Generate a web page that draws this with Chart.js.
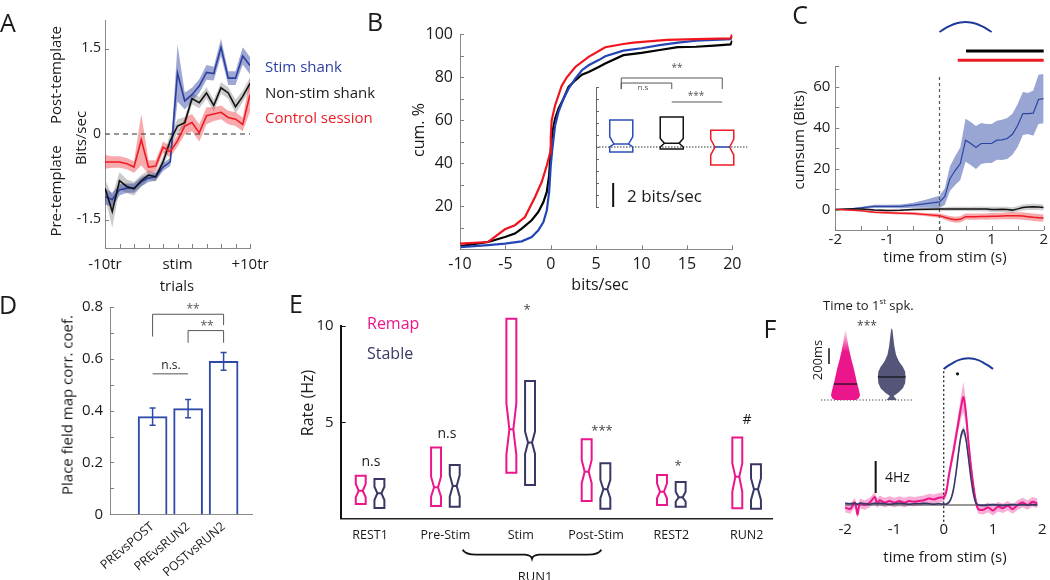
<!DOCTYPE html>
<html>
<head>
<meta charset="utf-8">
<script src="https://cdn.jsdelivr.net/npm/chart.js@4.4.1/dist/chart.umd.min.js"></script>
<style>
  html, body { margin: 0; padding: 0; background: #fff; }
  #fig { position: relative; width: 1050px; height: 580px; overflow: hidden; font-family: 'Open Sans', sans-serif; color: #1a1a1a; }
  #fig canvas { position: absolute; }
  .t { position: absolute; white-space: nowrap; line-height: 1; transform: translate(-50%, -50%); }
  .t.l { transform: translate(0, -50%); }
  .t.r { transform: translate(-50%, -50%) rotate(-90deg); }
  .p { font-size: 25px; }
  sup { font-size: 60%; }
</style>
</head>
<body>
<div id="fig"></div>
<script>
// ---- panel A: template bias around stim trials
const aTrials = [-10, -9, -8, -7, -6, -5, -4, -3, -2, -1, 0, 1, 2, 3, 4, 5, 6, 7, 8, 9, 10];
const aStim = [-1.1, -1.15, -0.98, -0.95, -0.95, -0.84, -0.77, -0.75, -0.58, -0.49, 1.07, 0.58, 0.69, 0.84, 1.08, 1.06, 1.52, 0.98, 0.98, 1.37, 1.2];
const aStimErr = [0.14, 0.12, 0.1, 0.08, 0.08, 0.08, 0.07, 0.07, 0.07, 0.07, 0.5, 0.15, 0.12, 0.12, 0.13, 0.12, 0.15, 0.12, 0.12, 0.15, 0.15];
const aNon = [-0.95, -1.36, -0.82, -0.92, -0.96, -0.82, -0.72, -0.75, -0.49, -0.12, 0.14, 0.2, 0.62, 0.55, 0.72, 0.5, 0.81, 0.72, 0.48, 0.66, 0.89];
const aNonErr = [0.15, 0.28, 0.15, 0.12, 0.12, 0.1, 0.08, 0.08, 0.1, 0.12, 0.12, 0.1, 0.1, 0.1, 0.1, 0.1, 0.1, 0.1, 0.12, 0.1, 0.1];
const aCtrl = [-0.49, -0.49, -0.49, -0.52, -0.58, -0.1, -0.58, -0.56, -0.23, -0.31, -0.12, 0.14, 0.2, 0.02, 0.32, 0.35, 0.38, 0.29, 0.26, 0.17, 0.69];
const aCtrlErr = [0.12, 0.1, 0.1, 0.1, 0.1, 0.45, 0.12, 0.1, 0.1, 0.1, 0.1, 0.15, 0.15, 0.15, 0.15, 0.12, 0.12, 0.12, 0.12, 0.12, 0.3];
const aXTicks = [-10, -8, -6, -4, -2, 0, 2, 4, 6, 8, 10];
const aXLabelAt = [-10, 0, 10];
const aXLabelText = ['-10tr', 'stim', '+10tr'];
const aYTicks = [-1.5, 0, 1.5];

// ---- panel B: cumulative distributions
const bRedX = [-10, -6.9, -6.2, -5.05, -3.95, -2.84, -1.73, -1, -0.44, -0.07, 0, 0.1, 0.48, 1.2, 1.77, 2.7, 4.17, 6, 8, 9.1, 12.8, 16, 19.8, 20];
const bRedY = [2.6, 3.4, 5.7, 9.3, 11.2, 15, 24.3, 31.3, 39, 45, 52, 60, 67, 76, 80, 84.8, 89.5, 94, 95.5, 96.1, 97.4, 97.8, 98.1, 100];
const bBlueX = [-10, -6.9, -5.05, -3.2, -2.1, -1.37, -0.81, -0.44, -0.18, 0, 0.18, 0.48, 0.85, 1.4, 1.96, 2.7, 3.43, 4.17, 5.28, 6, 8, 10, 12, 14, 16, 18, 19.8, 20];
const bBlueY = [1, 1.9, 2.6, 3.7, 5.7, 8.8, 12.7, 18, 26.7, 39, 46.8, 57.7, 63.9, 70, 74.7, 79.4, 83.3, 85.6, 88, 89.8, 92.4, 93.5, 95, 96.1, 97, 97.4, 97.7, 99.2];
const bBlackX = [-10, -6.9, -5.05, -3.95, -3.2, -2.1, -1.37, -0.81, -0.44, -0.18, 0, 0.18, 0.48, 0.85, 1.4, 1.96, 2.7, 3.43, 4.17, 5.28, 6, 8, 10, 12, 14, 16, 18, 19.8, 20];
const bBlackY = [1.5, 3.4, 5.7, 7.3, 9.6, 13.5, 17.4, 22, 26.7, 34.4, 46.8, 54.6, 60.8, 65.4, 70, 75.5, 78.6, 81.2, 82.5, 84.8, 86.4, 90.3, 91.4, 92.7, 94, 94.2, 94.7, 95.3, 97];
const bXTicks = [-10, -5, 0, 5, 10, 15, 20];
const bYTicks = [0, 10, 20, 30, 40, 50, 60, 70, 80, 90, 100];
const bYLabelAt = [20, 40, 60, 80, 100];
// inset boxes (bits/sec)
const bBoxQ1 = [-0.42, -0.17, -1.5];
const bBoxQ3 = [2.25, 2.5, 1.4];
const bBoxMed = [0.25, 0.31, 0];
const bBoxNotchLo = [0.0, 0.0, -0.67];
const bBoxNotchHi = [0.86, 0.72, 0.64];
const bBoxColor = ['#2a4fb8', '#111111', '#ee1c24'];
const bBoxMedColor = ['#2a4fb8', '#111111', '#2a4fb8'];
const bBrFrom = [1, 1, 2];
const bBrTo = [3, 2, 3];
const bBrY = [5.75, 5.33, 3.75];
const bBrLeg = [4.83, 4.83, 3.75];
const bInsetTicks = [-5, -4, -3, -2, -1, 0, 1, 2, 3, 4, 5];

// ---- panel C: cumulative information
const cT = [-2, -1.75, -1.5, -1.25, -1, -0.75, -0.5, -0.25, 0, 0.1, 0.2, 0.3, 0.4, 0.5, 0.6, 0.7, 0.8, 0.9, 1, 1.1, 1.2, 1.3, 1.4, 1.5, 1.6, 1.7, 1.8, 1.9, 2];
const cBlue = [0, 0.2, 0.8, 1.5, 1.5, 1.5, 2.1, 2.9, 3.7, 6.2, 15, 19, 22.4, 33.8, 32.2, 30.2, 32.2, 32.2, 32.2, 33.8, 34, 34.6, 36.7, 41, 46.8, 46.8, 47, 53.7, 54.1];
const cBlueErr = [0, 0.3, 0.6, 0.8, 0.8, 0.9, 1.2, 2, 3, 4, 6, 7, 8, 10.5, 10.5, 10.5, 10, 9.5, 9.5, 9.5, 9.8, 10, 10, 10.5, 10.5, 10, 11, 12, 12];
const cBlack = [0, 0.2, 0.3, -0.2, -0.5, -0.4, 0, 0.1, 0.2, 0.2, 0.3, 0.3, 0.3, 0.3, 0.3, 0.3, 0.3, 0.2, 0, 0, 0.1, 0, -0.3, 0.3, 1, 1.2, 1.3, 1.2, 1];
const cBlackErr = [0, 0.3, 0.4, 0.5, 0.5, 0.5, 0.6, 0.7, 0.8, 0.9, 1, 1, 1, 1, 1.1, 1.2, 1.2, 1.2, 1.3, 1.3, 1.3, 1.4, 1.4, 1.4, 1.5, 1.5, 1.5, 1.5, 1.5];
const cRed = [0, -0.2, -0.6, -1.3, -1.6, -1.8, -2, -2.5, -3, -3.8, -4.5, -5, -4.8, -3.5, -3.5, -3.5, -3.4, -3.4, -3.3, -3.3, -3.2, -3.1, -3, -3, -3.2, -3.5, -3.8, -4, -4.2];
const cRedErr = [0, 0.3, 0.4, 0.5, 0.6, 0.6, 0.7, 0.8, 1, 1.2, 1.3, 1.5, 1.5, 1.5, 1.5, 1.5, 1.5, 1.6, 1.6, 1.6, 1.6, 1.7, 1.7, 1.7, 1.8, 1.8, 1.8, 1.8, 1.8];
const cXTicks = [-2, -1.5, -1, -0.5, 0, 0.5, 1, 1.5, 2];
const cXLabelAt = [-2, -1, 0, 1, 2];
const cYTicks = [-10, 0, 10, 20, 30, 40, 50, 60, 70];
const cYLabelAt = [0, 20, 40, 60];
const cSigBlack = [0.51, 2];
const cSigRed = [0.35, 2];
// stimulus waveform drawn above C and F (0..1 s)
const stimT = [0, 0.1, 0.2, 0.3, 0.4, 0.5, 0.6, 0.7, 0.8, 0.9, 1];
const stimShape = [0, 0.33, 0.6, 0.82, 0.95, 1, 0.95, 0.82, 0.6, 0.33, 0];

// ---- panel D: place field correlations
const dNames = ['PREvsPOST', 'PREvsRUN2', 'POSTvsRUN2'];
const dMean = [0.377, 0.408, 0.59];
const dErr = [0.033, 0.035, 0.034];
const dYTicks = [0, 0.1, 0.2, 0.3, 0.4, 0.5, 0.6, 0.7, 0.8];
const dYLabelAt = [0, 0.2, 0.4, 0.6, 0.8];
const dBrFrom = [1, 2, 1];
const dBrTo = [3, 3, 2];
const dBrY = [0.772, 0.709, 0.542];
const dBrLegL = [0.686, 0.662, 0.542];
const dBrLegR = [0.73, 0.662, 0.542];

// ---- panel E: firing rates (notched boxes)
const eCats = ['REST1', 'Pre-Stim', 'Stim', 'Post-Stim', 'REST2', 'RUN2'];
const eRemapQ1 = [0.76, 0.66, 2.39, 0.92, 0.71, 0.54];
const eRemapQ3 = [2.23, 3.69, 10.37, 4.12, 2.27, 4.21];
const eRemapMed = [1.45, 1.63, 4.64, 2.44, 1.4, 2.18];
const eRemapNLo = [1.11, 1.14, 3.31, 1.84, 1.06, 1.4];
const eRemapNHi = [1.8, 2.18, 5.99, 3.05, 1.84, 2.88];
const eStableQ1 = [0.56, 0.62, 1.75, 0.52, 0.62, 0.52];
const eStableQ3 = [2.06, 2.79, 7.15, 2.88, 1.9, 2.82];
const eStableMed = [1.32, 1.7, 3.95, 1.53, 1.11, 1.53];
const eStableNLo = [0.97, 1.14, 3.36, 1.06, 0.88, 0.97];
const eStableNHi = [1.66, 2.27, 4.52, 2.01, 1.4, 2.1];
const eYTicks = [5, 10];
const eBrace = [1.23, 3.07, 2.15];

// ---- panel F: rate around stim + time to first spike
const fT = [-2, -1.9, -1.8, -1.75, -1.7, -1.6, -1.5, -1.4, -1.35, -1.3, -1.2, -1.1, -1, -0.9, -0.8, -0.7, -0.6, -0.5, -0.4, -0.3, -0.2, -0.1, 0, 0.05, 0.1, 0.15, 0.2, 0.25, 0.3, 0.35, 0.4, 0.45, 0.5, 0.55, 0.6, 0.65, 0.7, 0.8, 0.9, 1, 1.1, 1.2, 1.3, 1.4, 1.5, 1.6, 1.7, 1.8, 1.9];
const fRemap = [-0.3, -0.5, 0.3, -1.2, 0.2, 0, 0.3, 1, 0.2, 0.6, 0.3, 0.5, 0.3, 0.5, 0.3, 0.5, 0.4, 0.5, 0.6, 0.8, 0.7, 0.9, 1, 1.6, 3.5, 5.2, 6.8, 8.6, 10.4, 12.2, 13.5, 11.5, 8, 5, 2.5, 0.5, -0.5, -0.6, -0.3, -0.7, -0.2, -0.4, -0.1, -0.5, 0, 0.3, 0, 0.4, 0.2];
const fRemapErr = [0.6, 0.6, 0.6, 0.6, 0.6, 0.6, 0.6, 0.6, 0.6, 0.6, 0.6, 0.6, 0.6, 0.6, 0.6, 0.6, 0.6, 0.6, 0.6, 0.6, 0.6, 0.6, 0.6, 0.6, 0.7, 0.8, 0.9, 1, 1.1, 1.4, 1.9, 1.5, 1.1, 0.9, 0.7, 0.6, 0.6, 0.6, 0.6, 0.6, 0.6, 0.6, 0.6, 0.6, 0.6, 0.6, 0.6, 0.6, 0.6];
const fStable = [0.2, 0.15, 0.2, 0.1, 0.2, 0.15, 0.1, 0.2, 0.15, 0.2, 0.15, 0.1, 0.15, 0.2, 0.15, 0.1, 0.15, 0.15, 0.2, 0.15, 0.1, 0.15, 0.1, 0.1, 0.3, 0.8, 2, 4, 6.5, 8.6, 9.4, 8.3, 6, 3.5, 1.5, 0.3, 0, -0.05, 0, 0.05, 0, -0.05, 0, 0.05, 0, 0.05, 0, 0.05, 0];
const fStableErr = [0.15, 0.15, 0.15, 0.15, 0.15, 0.15, 0.15, 0.15, 0.15, 0.15, 0.15, 0.15, 0.15, 0.15, 0.15, 0.15, 0.15, 0.15, 0.15, 0.15, 0.15, 0.15, 0.15, 0.15, 0.2, 0.25, 0.3, 0.35, 0.4, 0.45, 0.5, 0.45, 0.4, 0.3, 0.2, 0.15, 0.15, 0.15, 0.15, 0.15, 0.15, 0.15, 0.15, 0.15, 0.15, 0.15, 0.15, 0.15, 0.15];
const fXTicks = [-2, -1, 0, 1, 2];
const fBaseline = [-2, 1.9];
const fDot = [0.28, 16.4];
// violins: time to 1st spike (ms) vs half width
const vRemapT = [0, 21, 64, 128, 213, 298, 426, 511, 639, 766, 851, 915];
const vRemapW = [0.22, 0.29, 0.314, 0.29, 0.25, 0.22, 0.17, 0.13, 0.08, 0.04, 0.02, 0];
const vStableT = [0, 8, 30, 51, 94, 149, 213, 290, 362, 426, 490, 575, 681, 788, 894, 915];
const vStableW = [0.1, 0.1, 0.07, 0.04, 0.14, 0.24, 0.29, 0.3, 0.29, 0.24, 0.16, 0.094, 0.058, 0.036, 0.015, 0];
const vMedian = [204, 294];

const BLUE = '#2b3f9e', RED = '#ed1c24', PINK = '#ec168c', NAVY = '#383766';

Chart.defaults.font.family = "'Open Sans', sans-serif";
Chart.defaults.color = '#1a1a1a';
Chart.defaults.animation = false;
Chart.defaults.plugins.legend.display = false;
Chart.defaults.plugins.tooltip.enabled = false;
Chart.defaults.elements.point.radius = 0;
Chart.defaults.elements.line.tension = 0;

const fig = document.getElementById('fig');

function makeChart(left, top, w, h, config) {
  const c = document.createElement('canvas');
  c.width = w; c.height = h;
  c.style.left = left + 'px'; c.style.top = top + 'px';
  c.style.width = w + 'px'; c.style.height = h + 'px';
  fig.appendChild(c);
  config.options = Object.assign({ responsive: false, devicePixelRatio: 1 }, config.options);
  return new Chart(c, config);
}

// fix an axis' thickness so the plot area lands where the figure has it
function fixed(size) {
  return s => {
    if (s.isHorizontal()) s.height = size; else s.width = size;
    s.paddingLeft = s.paddingRight = s.paddingTop = s.paddingBottom = 0;
  };
}
const setTicks = vals => s => { s.ticks = vals.map(v => ({ value: v })); };
const labelsAt = (at, text) => v => { const i = at.indexOf(v); return i < 0 ? '' : (text ? text[i] : String(v)); };
const pts = (xs, ys) => xs.map((x, i) => ({ x, y: ys[i] }));

function line(data, color, width, extra) {
  return Object.assign({ type: 'line', data, borderColor: color, borderWidth: width, pointRadius: 0, fill: false }, extra || {});
}
function band(xs, mean, err, color, order) {
  return [
    line(xs.map((x, i) => ({ x, y: mean[i] - err[i] })), 'rgba(0,0,0,0)', 0, { order }),
    line(xs.map((x, i) => ({ x, y: mean[i] + err[i] })), 'rgba(0,0,0,0)', 0, { order, fill: '-1', backgroundColor: color })
  ];
}

// MATLAB-style ticks pointing into the plot
const inTicks = {
  id: 'inTicks',
  afterDatasetsDraw(chart, args, opts) {
    const ctx = chart.ctx, a = chart.chartArea;
    ctx.save();
    ctx.strokeStyle = opts.color || '#808080';
    ctx.lineWidth = 1;
    (opts.axes || []).forEach(id => {
      const s = chart.scales[id];
      s.ticks.forEach(t => {
        const p = Math.round(s.getPixelForValue(t.value)) + 0.5;
        ctx.beginPath();
        if (s.isHorizontal()) { ctx.moveTo(p, a.bottom); ctx.lineTo(p, a.bottom - opts.len); }
        else { ctx.moveTo(a.left, p); ctx.lineTo(a.left + opts.len, p); }
        ctx.stroke();
      });
    });
    ctx.restore();
  }
};

function notchBox(ctx, xs, ys, pos, half, q1, q3, med, lo, hi, indent, color, lw, medColor) {
  const l = xs.getPixelForValue(pos - half), r = xs.getPixelForValue(pos + half);
  const d = (r - l) * indent;
  const Y = v => ys.getPixelForValue(v);
  ctx.save();
  ctx.strokeStyle = color; ctx.lineWidth = lw;
  ctx.beginPath();
  ctx.moveTo(l, Y(q3)); ctx.lineTo(l, Y(hi)); ctx.lineTo(l + d, Y(med)); ctx.lineTo(l, Y(lo)); ctx.lineTo(l, Y(q1));
  ctx.lineTo(r, Y(q1)); ctx.lineTo(r, Y(lo)); ctx.lineTo(r - d, Y(med)); ctx.lineTo(r, Y(hi)); ctx.lineTo(r, Y(q3));
  ctx.closePath(); ctx.stroke();
  ctx.beginPath(); ctx.strokeStyle = medColor;
  ctx.moveTo(l + d, Y(med)); ctx.lineTo(r - d, Y(med)); ctx.stroke();
  ctx.restore();
}

function bracket(ctx, xs, ys, from, to, y, legL, legR) {
  const X = v => xs.getPixelForValue(v), Y = v => ys.getPixelForValue(v);
  ctx.beginPath();
  ctx.moveTo(X(from), Y(legL)); ctx.lineTo(X(from), Y(y)); ctx.lineTo(X(to), Y(y)); ctx.lineTo(X(to), Y(legR));
  ctx.stroke();
}

const noGrid = { display: false, drawTicks: false };

// ================= A =================
makeChart(0, 0, 280, 300, {
  type: 'line',
  data: { datasets: [
    ...band(aTrials, aNon, aNonErr, 'rgba(150,150,150,0.5)', 12),
    ...band(aTrials, aStim, aStimErr, 'rgba(43,63,158,0.45)', 11),
    ...band(aTrials, aCtrl, aCtrlErr, 'rgba(237,28,36,0.38)', 10),
    line(pts([-10, 10], [0, 0]), '#333', 1.2, { borderDash: [5, 4], order: 5 }),
    line(pts(aTrials, aStim), BLUE, 1.6, { order: 3 }),
    line(pts(aTrials, aNon), '#111', 1.6, { order: 2 }),
    line(pts(aTrials, aCtrl), RED, 1.6, { order: 1 })
  ] },
  options: {
    layout: { padding: { left: 0, top: 20, right: 30, bottom: 0 } },
    scales: {
      x: { type: 'linear', min: -10, max: 10, afterFit: fixed(52), afterBuildTicks: setTicks(aXTicks),
           grid: noGrid, border: { color: '#8a8a8a' },
           ticks: { padding: 8, autoSkip: false, maxRotation: 0, font: { size: 15 }, callback: labelsAt(aXLabelAt, aXLabelText) } },
      y: { min: -2, max: 2, afterFit: fixed(105), afterBuildTicks: setTicks(aYTicks),
           grid: noGrid, border: { color: '#8a8a8a' },
           ticks: { padding: 4, autoSkip: false, font: { size: 14 }, callback: v => String(v) } }
    },
    plugins: { inTicks: { axes: ['x', 'y'], len: 4 } }
  },
  plugins: [inTicks]
});

// ================= B =================
makeChart(400, 0, 360, 300, {
  type: 'line',
  data: { datasets: [
    line(pts(bBlackX, bBlackY), '#000', 2.2, { order: 3 }),
    line(pts(bBlueX, bBlueY), '#2446b4', 2.2, { order: 2 }),
    line(pts(bRedX, bRedY), '#f0141e', 2.2, { order: 1 })
  ] },
  options: {
    layout: { padding: { left: 0, top: 34.3, right: 27.7, bottom: 0 } },
    scales: {
      x: { type: 'linear', min: -10, max: 20, afterFit: fixed(50.7), afterBuildTicks: setTicks(bXTicks),
           grid: noGrid, border: { color: '#8a8a8a' },
           ticks: { padding: 6, autoSkip: false, maxRotation: 0, font: { size: 16 }, callback: v => String(v) } },
      y: { min: 0, max: 100, afterFit: fixed(60), afterBuildTicks: setTicks(bYTicks),
           grid: noGrid, border: { color: '#8a8a8a' },
           ticks: { padding: 7, autoSkip: false, font: { size: 16 }, callback: labelsAt(bYLabelAt) } }
    },
    plugins: { inTicks: { axes: ['x', 'y'], len: 4 } }
  },
  plugins: [inTicks]
});

// B inset: notched boxes of the three groups
makeChart(590, 60, 170, 160, {
  type: 'line',
  data: { datasets: [
    line(pts([0.5, 3.5], [0, 0]), '#333', 1, { borderDash: [1.5, 1.5] }),
    line(pts([0.84, 0.84], [-5, -3]), '#111', 2)
  ] },
  options: {
    layout: { padding: { left: 6, top: 27, right: 12.5, bottom: 13 } },
    scales: {
      x: { type: 'linear', min: 0.5, max: 3.5, display: false },
      y: { min: -5, max: 5, afterFit: fixed(0), afterBuildTicks: setTicks(bInsetTicks),
           grid: noGrid, border: { color: '#666', dash: [3, 2] }, ticks: { display: false, autoSkip: false } }
    },
    plugins: { inTicks: { axes: ['y'], len: 3, color: '#666' } }
  },
  plugins: [inTicks, {
    id: 'bBoxes',
    afterDatasetsDraw(chart) {
      const ctx = chart.ctx, xs = chart.scales.x, ys = chart.scales.y;
      bBoxQ1.forEach((q1, i) => notchBox(ctx, xs, ys, i + 1, 0.228, q1, bBoxQ3[i], bBoxMed[i], bBoxNotchLo[i], bBoxNotchHi[i], 0.18, bBoxColor[i], 1.5, bBoxMedColor[i]));
      ctx.save(); ctx.strokeStyle = '#555'; ctx.lineWidth = 1;
      bBrFrom.forEach((f, i) => bracket(ctx, xs, ys, f, bBrTo[i], bBrY[i], bBrLeg[i], bBrLeg[i]));
      ctx.restore();
    }
  }]
});

// ================= C =================
makeChart(770, 0, 280, 300, {
  type: 'line',
  data: { datasets: [
    ...band(cT, cBlue, cBlueErr, 'rgba(52,78,170,0.5)', 12),
    ...band(cT, cBlack, cBlackErr, 'rgba(150,150,150,0.45)', 11),
    ...band(cT, cRed, cRedErr, 'rgba(237,28,36,0.38)', 10),
    line(pts([0, 0], [-10, 65]), '#555', 1.2, { borderDash: [3, 3], order: 6 }),
    line(pts(cT, cBlue), '#2a44a3', 1.2, { order: 3 }),
    line(pts(cT, cBlack), '#111', 1.5, { order: 2 }),
    line(pts(cT, cRed), RED, 1.5, { order: 1 }),
    line(pts(stimT, stimShape.map(s => 86.6 + 4.9 * s)), '#1f3a9a', 2, { clip: false, tension: 0.4 }),
    line(pts(cSigBlack, [77.3, 77.3]), '#000', 3, { clip: false }),
    line(pts(cSigRed, [72.8, 72.8]), RED, 3, { clip: false })
  ] },
  options: {
    layout: { padding: { left: 0, top: 66, right: 6.3, bottom: 0 } },
    scales: {
      x: { type: 'linear', min: -2, max: 2, afterFit: fixed(70), afterBuildTicks: setTicks(cXTicks),
           grid: noGrid, border: { color: '#8a8a8a' },
           ticks: { padding: 1, autoSkip: false, maxRotation: 0, font: { size: 15 }, callback: labelsAt(cXLabelAt) } },
      y: { min: -10, max: 70, afterFit: fixed(65.3), afterBuildTicks: setTicks(cYTicks),
           grid: noGrid, border: { color: '#8a8a8a' },
           ticks: { padding: 5, autoSkip: false, font: { size: 15 }, callback: labelsAt(cYLabelAt) } }
    },
    plugins: { inTicks: { axes: ['x', 'y'], len: 4 } }
  },
  plugins: [inTicks]
});

// ================= D =================
makeChart(0, 290, 262, 290, {
  type: 'bar',
  data: { datasets: [{
    data: pts([1, 2, 3], dMean), backgroundColor: '#fff', borderColor: '#2e4aa8', borderWidth: 2, barThickness: 29
  }] },
  options: {
    layout: { padding: { left: 0, top: 17, right: 10, bottom: 0 } },
    scales: {
      x: { type: 'linear', offset: false, min: -0.2, max: 3.8, afterFit: fixed(65.7), afterBuildTicks: setTicks([1, 2, 3]),
           grid: { display: false, drawTicks: false, offset: false }, border: { color: '#8a8a8a' },
           ticks: { padding: 5, autoSkip: false, minRotation: 40, maxRotation: 40, font: { size: 12.5 }, callback: v => dNames[v - 1] } },
      y: { min: 0, max: 0.8, afterFit: fixed(110), afterBuildTicks: setTicks(dYTicks),
           grid: noGrid, border: { color: '#8a8a8a' },
           ticks: { padding: 7, autoSkip: false, font: { size: 15 }, callback: labelsAt(dYLabelAt) } }
    },
    plugins: { inTicks: { axes: ['y'], len: 4 } }
  },
  plugins: [inTicks, {
    id: 'dExtras',
    afterDatasetsDraw(chart) {
      const ctx = chart.ctx, xs = chart.scales.x, ys = chart.scales.y;
      ctx.save();
      ctx.strokeStyle = '#2e4aa8'; ctx.lineWidth = 1.5;
      dMean.forEach((m, i) => {
        const x = xs.getPixelForValue(i + 1), t = ys.getPixelForValue(m + dErr[i]), b = ys.getPixelForValue(m - dErr[i]);
        ctx.beginPath();
        ctx.moveTo(x, t); ctx.lineTo(x, b);
        ctx.moveTo(x - 3, t); ctx.lineTo(x + 3, t);
        ctx.moveTo(x - 3, b); ctx.lineTo(x + 3, b);
        ctx.stroke();
      });
      ctx.strokeStyle = '#555'; ctx.lineWidth = 1;
      dBrFrom.forEach((f, i) => bracket(ctx, xs, ys, f, dBrTo[i], dBrY[i], dBrLegL[i], dBrLegR[i]));
      ctx.restore();
    }
  }]
});

// ================= E =================
makeChart(270, 300, 503, 280, {
  type: 'line',
  data: { datasets: [] },
  options: {
    layout: { padding: { left: 0, top: 26, right: 0, bottom: 0 } },
    scales: {
      x: { type: 'linear', min: -0.39, max: 5.35, afterFit: fixed(61.3), afterBuildTicks: setTicks([0, 1, 2, 3, 4, 5]),
           grid: noGrid, border: { color: '#222', width: 1.5, dash: [6, 4] },
           ticks: { padding: 9, autoSkip: false, maxRotation: 0, font: { size: 12.5 }, callback: v => eCats[v] } },
      y: { min: 0, max: 10, afterFit: fixed(70.7), afterBuildTicks: setTicks(eYTicks),
           grid: noGrid, border: { color: '#111', width: 2 },
           ticks: { padding: 7, autoSkip: false, font: { size: 15 }, callback: v => String(v) } }
    },
    plugins: { inTicks: { axes: ['y'], len: 5, color: '#111' } }
  },
  plugins: [inTicks, {
    id: 'eBoxes',
    afterDatasetsDraw(chart) {
      const ctx = chart.ctx, xs = chart.scales.x, ys = chart.scales.y;
      eCats.forEach((c, i) => {
        notchBox(ctx, xs, ys, i - 0.124, 0.066, eRemapQ1[i], eRemapQ3[i], eRemapMed[i], eRemapNLo[i], eRemapNHi[i], 0.3, PINK, 2, PINK);
        notchBox(ctx, xs, ys, i + 0.124, 0.066, eStableQ1[i], eStableQ3[i], eStableMed[i], eStableNLo[i], eStableNHi[i], 0.3, NAVY, 2, NAVY);
      });
      // brace grouping the RUN1 epochs
      const x1 = xs.getPixelForValue(eBrace[0]), x2 = xs.getPixelForValue(eBrace[1]), xm = xs.getPixelForValue(eBrace[2]);
      const y0 = chart.chartArea.bottom + 31;
      ctx.save(); ctx.strokeStyle = '#111'; ctx.lineWidth = 1.8;
      ctx.beginPath();
      ctx.moveTo(x1, y0);
      ctx.quadraticCurveTo(x1 + 2, y0 + 5, x1 + 14, y0 + 5);
      ctx.lineTo(xm - 7, y0 + 5);
      ctx.quadraticCurveTo(xm - 1, y0 + 5.5, xm, y0 + 9);
      ctx.quadraticCurveTo(xm + 1, y0 + 5.5, xm + 7, y0 + 5);
      ctx.lineTo(x2 - 14, y0 + 5);
      ctx.quadraticCurveTo(x2 - 2, y0 + 5, x2, y0);
      ctx.stroke();
      ctx.restore();
    }
  }]
});

// ================= F =================
makeChart(780, 300, 270, 280, {
  type: 'line',
  data: { datasets: [
    ...band(fT, fRemap, fRemapErr, 'rgba(236,22,140,0.35)', 12),
    ...band(fT, fStable, fStableErr, 'rgba(90,88,130,0.4)', 11),
    line(pts(fBaseline, [0, 0]), '#777', 1.5, { order: 5 }),
    line(pts([0, 0], [-2.1, 17.1]), '#222', 1.3, { borderDash: [2, 2.5], clip: false, order: 6 }),
    line(pts(fT, fRemap), PINK, 2, { order: 2, tension: 0.3 }),
    line(pts(fT, fStable), NAVY, 1.6, { order: 1, tension: 0.3 }),
    line(pts([-1.38, -1.38], [1.5, 5.5]), '#111', 2),
    line(pts(stimT, stimShape.map(s => 17 + 1.35 * s)), '#1f3a9a', 2, { tension: 0.4 }),
    { type: 'scatter', data: [{ x: fDot[0], y: fDot[1] }], pointRadius: 1.6, backgroundColor: '#111', borderWidth: 0 }
  ] },
  options: {
    layout: { padding: { left: 65.1, top: 53, right: 7.7, bottom: 0 } },
    scales: {
      x: { type: 'linear', min: -2, max: 2, afterFit: fixed(63), afterBuildTicks: setTicks(fXTicks),
           grid: noGrid, border: { display: false },
           ticks: { padding: 4, autoSkip: false, maxRotation: 0, font: { size: 15 }, callback: v => String(v) } },
      y: { min: -1.5, max: 19, display: false }
    }
  }
});

// F inset: violins of time to first spike
makeChart(815, 320, 105, 84, {
  type: 'line',
  data: { datasets: [
    line(pts([0.47, 2.46], [0, 0]), '#333', 1, { borderDash: [1.2, 2], clip: false }),
    line(pts([0.643, 0.643], [460, 660]), '#111', 1.5)
  ] },
  options: {
    layout: { padding: { left: 6, top: 1.7, right: 7, bottom: 4 } },
    scales: {
      x: { type: 'linear', min: 0.47, max: 2.46, display: false },
      y: { min: 0, max: 1000, display: false }
    }
  },
  plugins: [{
    id: 'violins',
    afterDatasetsDraw(chart) {
      const ctx = chart.ctx, xs = chart.scales.x, ys = chart.scales.y;
      const interp = (ts, ws, t) => { for (let i = 1; i < ts.length; i++) if (t <= ts[i]) return ws[i - 1] + (ws[i] - ws[i - 1]) * (t - ts[i - 1]) / (ts[i] - ts[i - 1]); return 0; };
      const draw = (cx, ts, ws, fill, med) => {
        ctx.save();
        ctx.fillStyle = fill;
        ctx.beginPath();
        ts.forEach((t, i) => { const px = xs.getPixelForValue(cx + ws[i]), py = ys.getPixelForValue(t); i ? ctx.lineTo(px, py) : ctx.moveTo(px, py); });
        for (let i = ts.length - 1; i >= 0; i--) ctx.lineTo(xs.getPixelForValue(cx - ws[i]), ys.getPixelForValue(ts[i]));
        ctx.closePath(); ctx.fill();
        const w = interp(ts, ws, med), y = ys.getPixelForValue(med);
        ctx.strokeStyle = '#111'; ctx.lineWidth = 1.2;
        ctx.beginPath(); ctx.moveTo(xs.getPixelForValue(cx - w), y); ctx.lineTo(xs.getPixelForValue(cx + w), y); ctx.stroke();
        ctx.restore();
      };
      const g = ctx.createLinearGradient(0, ys.getPixelForValue(915), 0, ys.getPixelForValue(620));
      g.addColorStop(0, 'rgba(236,22,140,0)');
      g.addColorStop(1, 'rgba(236,22,140,1)');
      draw(1, vRemapT, vRemapW, g, vMedian[0]);
      draw(2, vStableT, vStableW, '#55557a', vMedian[1]);
    }
  }]
});

// ================= text =================
function txt(html, x, y, cls, style) {
  const d = document.createElement('div');
  d.className = 't ' + (cls || '');
  d.innerHTML = html;
  d.style.left = x + 'px'; d.style.top = y + 'px';
  if (style) d.style.cssText += style;
  fig.appendChild(d);
}
txt('A', 8, 22, 'p');
txt('Post-template', 55, 75, 'r', 'font-size:15px');
txt('Pre-template', 55, 191, 'r', 'font-size:15px');
txt('Bits/sec', 80, 138, 'r', 'font-size:15px');
txt('Stim shank', 265, 66, 'l', 'font-size:15px;color:' + BLUE);
txt('Non-stim shank', 265, 92, 'l', 'font-size:15px');
txt('Control session', 265, 117, 'l', 'font-size:15px;color:' + RED);
txt('trials', 177, 285, '', 'font-size:15px');

txt('B', 375, 21, 'p');
txt('cum. %', 418, 130, 'r', 'font-size:16px');
txt('bits/sec', 600, 284, '', 'font-size:16px');
txt('**', 677, 67, '', 'font-size:10px;color:#555');
txt('n.s', 643, 87, '', 'font-size:8px;color:#555');
txt('***', 696, 95, '', 'font-size:10px;color:#555');
txt('2 bits/sec', 627, 195, 'l', 'font-size:17px');

txt('C', 800, 14, 'p');
txt('cumsum (Bits)', 798, 140, 'r', 'font-size:15px');
txt('time from stim (s)', 945, 256, '', 'font-size:15px');

txt('D', 8, 304, 'p');
txt('Place field map corr. coef.', 67, 405, 'r', 'font-size:15px');
txt('**', 193, 309, '', 'font-size:12px;color:#555');
txt('**', 207, 326, '', 'font-size:12px;color:#555');
txt('n.s.', 171, 365, '', 'font-size:12px');

txt('E', 296, 303, 'p');
txt('Remap', 367, 323, 'l', 'font-size:16px;color:' + PINK);
txt('Stable', 367, 353, 'l', 'font-size:16px;color:' + NAVY);
txt('Rate (Hz)', 307, 403, 'r', 'font-size:16px');
txt('n.s', 371, 461, '', 'font-size:14px');
txt('n.s', 447, 433, '', 'font-size:14px');
txt('*', 527, 309, '', 'font-size:13px;color:#444');
txt('***', 602, 430, '', 'font-size:13px;color:#444');
txt('*', 678, 465, '', 'font-size:13px;color:#444');
txt('#', 747, 419, '', 'font-size:14px');
txt('RUN1', 535, 576, '', 'font-size:13px');

txt('F', 770, 328, 'p');
txt('Time to 1<sup>st</sup> spk.', 823, 305, 'l', 'font-size:13px');
txt('***', 867, 326, '', 'font-size:12px;color:#444');
txt('200ms', 817, 360, 'r', 'font-size:13px');
txt('4Hz', 885, 477, 'l', 'font-size:14px');
txt('time from stim (s)', 945, 556, '', 'font-size:15px');
</script>
</body>
</html>
